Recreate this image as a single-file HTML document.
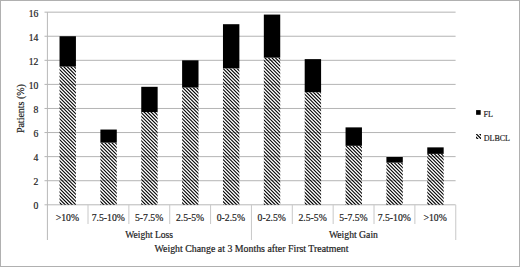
<!DOCTYPE html><html><head><meta charset="utf-8"><style>html,body{margin:0;padding:0;background:#fff;}svg{display:block;}text{font-family:"Liberation Serif",serif;fill:#222;stroke:#222;stroke-width:0.2px;}</style></head><body>
<svg width="520" height="267" viewBox="0 0 520 267">
<rect x="0" y="0" width="520" height="267" fill="#fff"/>
<line x1="44.5" y1="180.72" x2="455.60" y2="180.72" stroke="#b4b4b4" stroke-width="1"/>
<line x1="44.5" y1="156.64" x2="455.60" y2="156.64" stroke="#b4b4b4" stroke-width="1"/>
<line x1="44.5" y1="132.56" x2="455.60" y2="132.56" stroke="#b4b4b4" stroke-width="1"/>
<line x1="44.5" y1="108.48" x2="455.60" y2="108.48" stroke="#b4b4b4" stroke-width="1"/>
<line x1="44.5" y1="84.40" x2="455.60" y2="84.40" stroke="#b4b4b4" stroke-width="1"/>
<line x1="44.5" y1="60.32" x2="455.60" y2="60.32" stroke="#b4b4b4" stroke-width="1"/>
<line x1="44.5" y1="36.24" x2="455.60" y2="36.24" stroke="#b4b4b4" stroke-width="1"/>
<line x1="44.5" y1="12.16" x2="455.60" y2="12.16" stroke="#b4b4b4" stroke-width="1"/>
<line x1="44.5" y1="204.80" x2="455.60" y2="204.80" stroke="#b8b8b8" stroke-width="1"/>
<rect x="59.53" y="36.24" width="16.4" height="30.34" fill="#000"/>
<clipPath id="c0"><rect x="59.53" y="66.58" width="16.40" height="138.22"/></clipPath><g clip-path="url(#c0)"><path d="M-84.42,65.58L55.80,205.80M-80.92,65.58L59.30,205.80M-77.42,65.58L62.80,205.80M-73.92,65.58L66.30,205.80M-70.42,65.58L69.80,205.80M-66.92,65.58L73.30,205.80M-63.42,65.58L76.80,205.80M-59.92,65.58L80.30,205.80M-56.42,65.58L83.80,205.80M-52.92,65.58L87.30,205.80M-49.42,65.58L90.80,205.80M-45.92,65.58L94.30,205.80M-42.42,65.58L97.80,205.80M-38.92,65.58L101.30,205.80M-35.42,65.58L104.80,205.80M-31.92,65.58L108.30,205.80M-28.42,65.58L111.80,205.80M-24.92,65.58L115.30,205.80M-21.42,65.58L118.80,205.80M-17.92,65.58L122.30,205.80M-14.42,65.58L125.80,205.80M-10.92,65.58L129.30,205.80M-7.42,65.58L132.80,205.80M-3.92,65.58L136.30,205.80M-0.42,65.58L139.80,205.80M3.08,65.58L143.30,205.80M6.58,65.58L146.80,205.80M10.08,65.58L150.30,205.80M13.58,65.58L153.80,205.80M17.08,65.58L157.30,205.80M20.58,65.58L160.80,205.80M24.08,65.58L164.30,205.80M27.58,65.58L167.80,205.80M31.08,65.58L171.30,205.80M34.58,65.58L174.80,205.80M38.08,65.58L178.30,205.80M41.58,65.58L181.80,205.80M45.08,65.58L185.30,205.80M48.58,65.58L188.80,205.80M52.08,65.58L192.30,205.80M55.58,65.58L195.80,205.80M59.08,65.58L199.30,205.80M62.58,65.58L202.80,205.80M66.08,65.58L206.30,205.80M69.58,65.58L209.80,205.80M73.08,65.58L213.30,205.80M76.58,65.58L216.80,205.80" stroke="#000" stroke-width="1.2" fill="none"/></g>
<rect x="100.39" y="129.55" width="16.4" height="13.12" fill="#000"/>
<clipPath id="c1"><rect x="100.39" y="142.67" width="16.40" height="62.13"/></clipPath><g clip-path="url(#c1)"><path d="M33.67,141.67L97.80,205.80M37.17,141.67L101.30,205.80M40.67,141.67L104.80,205.80M44.17,141.67L108.30,205.80M47.67,141.67L111.80,205.80M51.17,141.67L115.30,205.80M54.67,141.67L118.80,205.80M58.17,141.67L122.30,205.80M61.67,141.67L125.80,205.80M65.17,141.67L129.30,205.80M68.67,141.67L132.80,205.80M72.17,141.67L136.30,205.80M75.67,141.67L139.80,205.80M79.17,141.67L143.30,205.80M82.67,141.67L146.80,205.80M86.17,141.67L150.30,205.80M89.67,141.67L153.80,205.80M93.17,141.67L157.30,205.80M96.67,141.67L160.80,205.80M100.17,141.67L164.30,205.80M103.67,141.67L167.80,205.80M107.17,141.67L171.30,205.80M110.67,141.67L174.80,205.80M114.17,141.67L178.30,205.80M117.67,141.67L181.80,205.80" stroke="#000" stroke-width="1.2" fill="none"/></g>
<rect x="141.25" y="86.81" width="16.4" height="25.28" fill="#000"/>
<clipPath id="c2"><rect x="141.25" y="112.09" width="16.40" height="92.71"/></clipPath><g clip-path="url(#c2)"><path d="M41.59,111.09L136.30,205.80M45.09,111.09L139.80,205.80M48.59,111.09L143.30,205.80M52.09,111.09L146.80,205.80M55.59,111.09L150.30,205.80M59.09,111.09L153.80,205.80M62.59,111.09L157.30,205.80M66.09,111.09L160.80,205.80M69.59,111.09L164.30,205.80M73.09,111.09L167.80,205.80M76.59,111.09L171.30,205.80M80.09,111.09L174.80,205.80M83.59,111.09L178.30,205.80M87.09,111.09L181.80,205.80M90.59,111.09L185.30,205.80M94.09,111.09L188.80,205.80M97.59,111.09L192.30,205.80M101.09,111.09L195.80,205.80M104.59,111.09L199.30,205.80M108.09,111.09L202.80,205.80M111.59,111.09L206.30,205.80M115.09,111.09L209.80,205.80M118.59,111.09L213.30,205.80M122.09,111.09L216.80,205.80M125.59,111.09L220.30,205.80M129.09,111.09L223.80,205.80M132.59,111.09L227.30,205.80M136.09,111.09L230.80,205.80M139.59,111.09L234.30,205.80M143.09,111.09L237.80,205.80M146.59,111.09L241.30,205.80M150.09,111.09L244.80,205.80M153.59,111.09L248.30,205.80M157.09,111.09L251.80,205.80" stroke="#000" stroke-width="1.2" fill="none"/></g>
<rect x="182.11" y="60.32" width="16.4" height="27.21" fill="#000"/>
<clipPath id="c3"><rect x="182.11" y="87.53" width="16.40" height="117.27"/></clipPath><g clip-path="url(#c3)"><path d="M59.03,86.53L178.30,205.80M62.53,86.53L181.80,205.80M66.03,86.53L185.30,205.80M69.53,86.53L188.80,205.80M73.03,86.53L192.30,205.80M76.53,86.53L195.80,205.80M80.03,86.53L199.30,205.80M83.53,86.53L202.80,205.80M87.03,86.53L206.30,205.80M90.53,86.53L209.80,205.80M94.03,86.53L213.30,205.80M97.53,86.53L216.80,205.80M101.03,86.53L220.30,205.80M104.53,86.53L223.80,205.80M108.03,86.53L227.30,205.80M111.53,86.53L230.80,205.80M115.03,86.53L234.30,205.80M118.53,86.53L237.80,205.80M122.03,86.53L241.30,205.80M125.53,86.53L244.80,205.80M129.03,86.53L248.30,205.80M132.53,86.53L251.80,205.80M136.03,86.53L255.30,205.80M139.53,86.53L258.80,205.80M143.03,86.53L262.30,205.80M146.53,86.53L265.80,205.80M150.03,86.53L269.30,205.80M153.53,86.53L272.80,205.80M157.03,86.53L276.30,205.80M160.53,86.53L279.80,205.80M164.03,86.53L283.30,205.80M167.53,86.53L286.80,205.80M171.03,86.53L290.30,205.80M174.53,86.53L293.80,205.80M178.03,86.53L297.30,205.80M181.53,86.53L300.80,205.80M185.03,86.53L304.30,205.80M188.53,86.53L307.80,205.80M192.03,86.53L311.30,205.80M195.53,86.53L314.80,205.80M199.03,86.53L318.30,205.80" stroke="#000" stroke-width="1.2" fill="none"/></g>
<rect x="222.97" y="24.20" width="16.4" height="44.19" fill="#000"/>
<clipPath id="c4"><rect x="222.97" y="68.39" width="16.40" height="136.41"/></clipPath><g clip-path="url(#c4)"><path d="M81.89,67.39L220.30,205.80M85.39,67.39L223.80,205.80M88.89,67.39L227.30,205.80M92.39,67.39L230.80,205.80M95.89,67.39L234.30,205.80M99.39,67.39L237.80,205.80M102.89,67.39L241.30,205.80M106.39,67.39L244.80,205.80M109.89,67.39L248.30,205.80M113.39,67.39L251.80,205.80M116.89,67.39L255.30,205.80M120.39,67.39L258.80,205.80M123.89,67.39L262.30,205.80M127.39,67.39L265.80,205.80M130.89,67.39L269.30,205.80M134.39,67.39L272.80,205.80M137.89,67.39L276.30,205.80M141.39,67.39L279.80,205.80M144.89,67.39L283.30,205.80M148.39,67.39L286.80,205.80M151.89,67.39L290.30,205.80M155.39,67.39L293.80,205.80M158.89,67.39L297.30,205.80M162.39,67.39L300.80,205.80M165.89,67.39L304.30,205.80M169.39,67.39L307.80,205.80M172.89,67.39L311.30,205.80M176.39,67.39L314.80,205.80M179.89,67.39L318.30,205.80M183.39,67.39L321.80,205.80M186.89,67.39L325.30,205.80M190.39,67.39L328.80,205.80M193.89,67.39L332.30,205.80M197.39,67.39L335.80,205.80M200.89,67.39L339.30,205.80M204.39,67.39L342.80,205.80M207.89,67.39L346.30,205.80M211.39,67.39L349.80,205.80M214.89,67.39L353.30,205.80M218.39,67.39L356.80,205.80M221.89,67.39L360.30,205.80M225.39,67.39L363.80,205.80M228.89,67.39L367.30,205.80M232.39,67.39L370.80,205.80M235.89,67.39L374.30,205.80M239.39,67.39L377.80,205.80" stroke="#000" stroke-width="1.2" fill="none"/></g>
<rect x="263.83" y="14.57" width="16.4" height="43.10" fill="#000"/>
<clipPath id="c5"><rect x="263.83" y="57.67" width="16.40" height="147.13"/></clipPath><g clip-path="url(#c5)"><path d="M109.67,56.67L258.80,205.80M113.17,56.67L262.30,205.80M116.67,56.67L265.80,205.80M120.17,56.67L269.30,205.80M123.67,56.67L272.80,205.80M127.17,56.67L276.30,205.80M130.67,56.67L279.80,205.80M134.17,56.67L283.30,205.80M137.67,56.67L286.80,205.80M141.17,56.67L290.30,205.80M144.67,56.67L293.80,205.80M148.17,56.67L297.30,205.80M151.67,56.67L300.80,205.80M155.17,56.67L304.30,205.80M158.67,56.67L307.80,205.80M162.17,56.67L311.30,205.80M165.67,56.67L314.80,205.80M169.17,56.67L318.30,205.80M172.67,56.67L321.80,205.80M176.17,56.67L325.30,205.80M179.67,56.67L328.80,205.80M183.17,56.67L332.30,205.80M186.67,56.67L335.80,205.80M190.17,56.67L339.30,205.80M193.67,56.67L342.80,205.80M197.17,56.67L346.30,205.80M200.67,56.67L349.80,205.80M204.17,56.67L353.30,205.80M207.67,56.67L356.80,205.80M211.17,56.67L360.30,205.80M214.67,56.67L363.80,205.80M218.17,56.67L367.30,205.80M221.67,56.67L370.80,205.80M225.17,56.67L374.30,205.80M228.67,56.67L377.80,205.80M232.17,56.67L381.30,205.80M235.67,56.67L384.80,205.80M239.17,56.67L388.30,205.80M242.67,56.67L391.80,205.80M246.17,56.67L395.30,205.80M249.67,56.67L398.80,205.80M253.17,56.67L402.30,205.80M256.67,56.67L405.80,205.80M260.17,56.67L409.30,205.80M263.67,56.67L412.80,205.80M267.17,56.67L416.30,205.80M270.67,56.67L419.80,205.80M274.17,56.67L423.30,205.80M277.67,56.67L426.80,205.80M281.17,56.67L430.30,205.80" stroke="#000" stroke-width="1.2" fill="none"/></g>
<rect x="304.69" y="59.12" width="16.4" height="33.11" fill="#000"/>
<clipPath id="c6"><rect x="304.69" y="92.23" width="16.40" height="112.57"/></clipPath><g clip-path="url(#c6)"><path d="M186.23,91.23L300.80,205.80M189.73,91.23L304.30,205.80M193.23,91.23L307.80,205.80M196.73,91.23L311.30,205.80M200.23,91.23L314.80,205.80M203.73,91.23L318.30,205.80M207.23,91.23L321.80,205.80M210.73,91.23L325.30,205.80M214.23,91.23L328.80,205.80M217.73,91.23L332.30,205.80M221.23,91.23L335.80,205.80M224.73,91.23L339.30,205.80M228.23,91.23L342.80,205.80M231.73,91.23L346.30,205.80M235.23,91.23L349.80,205.80M238.73,91.23L353.30,205.80M242.23,91.23L356.80,205.80M245.73,91.23L360.30,205.80M249.23,91.23L363.80,205.80M252.73,91.23L367.30,205.80M256.23,91.23L370.80,205.80M259.73,91.23L374.30,205.80M263.23,91.23L377.80,205.80M266.73,91.23L381.30,205.80M270.23,91.23L384.80,205.80M273.73,91.23L388.30,205.80M277.23,91.23L391.80,205.80M280.73,91.23L395.30,205.80M284.23,91.23L398.80,205.80M287.73,91.23L402.30,205.80M291.23,91.23L405.80,205.80M294.73,91.23L409.30,205.80M298.23,91.23L412.80,205.80M301.73,91.23L416.30,205.80M305.23,91.23L419.80,205.80M308.73,91.23L423.30,205.80M312.23,91.23L426.80,205.80M315.73,91.23L430.30,205.80M319.23,91.23L433.80,205.80M322.73,91.23L437.30,205.80" stroke="#000" stroke-width="1.2" fill="none"/></g>
<rect x="345.55" y="127.38" width="16.4" height="18.42" fill="#000"/>
<clipPath id="c7"><rect x="345.55" y="145.80" width="16.40" height="59.00"/></clipPath><g clip-path="url(#c7)"><path d="M281.80,144.80L342.80,205.80M285.30,144.80L346.30,205.80M288.80,144.80L349.80,205.80M292.30,144.80L353.30,205.80M295.80,144.80L356.80,205.80M299.30,144.80L360.30,205.80M302.80,144.80L363.80,205.80M306.30,144.80L367.30,205.80M309.80,144.80L370.80,205.80M313.30,144.80L374.30,205.80M316.80,144.80L377.80,205.80M320.30,144.80L381.30,205.80M323.80,144.80L384.80,205.80M327.30,144.80L388.30,205.80M330.80,144.80L391.80,205.80M334.30,144.80L395.30,205.80M337.80,144.80L398.80,205.80M341.30,144.80L402.30,205.80M344.80,144.80L405.80,205.80M348.30,144.80L409.30,205.80M351.80,144.80L412.80,205.80M355.30,144.80L416.30,205.80M358.80,144.80L419.80,205.80M362.30,144.80L423.30,205.80" stroke="#000" stroke-width="1.2" fill="none"/></g>
<rect x="386.41" y="157.00" width="16.4" height="5.66" fill="#000"/>
<clipPath id="c8"><rect x="386.41" y="162.66" width="16.40" height="42.14"/></clipPath><g clip-path="url(#c8)"><path d="M337.16,161.66L381.30,205.80M340.66,161.66L384.80,205.80M344.16,161.66L388.30,205.80M347.66,161.66L391.80,205.80M351.16,161.66L395.30,205.80M354.66,161.66L398.80,205.80M358.16,161.66L402.30,205.80M361.66,161.66L405.80,205.80M365.16,161.66L409.30,205.80M368.66,161.66L412.80,205.80M372.16,161.66L416.30,205.80M375.66,161.66L419.80,205.80M379.16,161.66L423.30,205.80M382.66,161.66L426.80,205.80M386.16,161.66L430.30,205.80M389.66,161.66L433.80,205.80M393.16,161.66L437.30,205.80M396.66,161.66L440.80,205.80M400.16,161.66L444.30,205.80M403.66,161.66L447.80,205.80" stroke="#000" stroke-width="1.2" fill="none"/></g>
<rect x="427.27" y="147.37" width="16.4" height="6.50" fill="#000"/>
<clipPath id="c9"><rect x="427.27" y="153.87" width="16.40" height="50.93"/></clipPath><g clip-path="url(#c9)"><path d="M370.37,152.87L423.30,205.80M373.87,152.87L426.80,205.80M377.37,152.87L430.30,205.80M380.87,152.87L433.80,205.80M384.37,152.87L437.30,205.80M387.87,152.87L440.80,205.80M391.37,152.87L444.30,205.80M394.87,152.87L447.80,205.80M398.37,152.87L451.30,205.80M401.87,152.87L454.80,205.80M405.37,152.87L458.30,205.80M408.87,152.87L461.80,205.80M412.37,152.87L465.30,205.80M415.87,152.87L468.80,205.80M419.37,152.87L472.30,205.80M422.87,152.87L475.80,205.80M426.37,152.87L479.30,205.80M429.87,152.87L482.80,205.80M433.37,152.87L486.30,205.80M436.87,152.87L489.80,205.80M440.37,152.87L493.30,205.80M443.87,152.87L496.80,205.80" stroke="#000" stroke-width="1.2" fill="none"/></g>
<line x1="47.4" y1="12.16" x2="47.4" y2="240" stroke="#b8b8b8" stroke-width="1"/>
<line x1="88.01" y1="204.80" x2="88.01" y2="224" stroke="#c8c8c8" stroke-width="1"/>
<line x1="128.87" y1="204.80" x2="128.87" y2="224" stroke="#c8c8c8" stroke-width="1"/>
<line x1="169.73" y1="204.80" x2="169.73" y2="224" stroke="#c8c8c8" stroke-width="1"/>
<line x1="210.59" y1="204.80" x2="210.59" y2="224" stroke="#c8c8c8" stroke-width="1"/>
<line x1="251.45" y1="204.80" x2="251.45" y2="240" stroke="#c8c8c8" stroke-width="1"/>
<line x1="292.31" y1="204.80" x2="292.31" y2="224" stroke="#c8c8c8" stroke-width="1"/>
<line x1="333.17" y1="204.80" x2="333.17" y2="224" stroke="#c8c8c8" stroke-width="1"/>
<line x1="374.03" y1="204.80" x2="374.03" y2="224" stroke="#c8c8c8" stroke-width="1"/>
<line x1="414.89" y1="204.80" x2="414.89" y2="224" stroke="#c8c8c8" stroke-width="1"/>
<line x1="455.75" y1="204.80" x2="455.75" y2="240" stroke="#c8c8c8" stroke-width="1"/>
<text x="38.4" y="209.1" font-size="9.7" text-anchor="end">0</text>
<text x="38.4" y="185.0" font-size="9.7" text-anchor="end">2</text>
<text x="38.4" y="160.9" font-size="9.7" text-anchor="end">4</text>
<text x="38.4" y="136.9" font-size="9.7" text-anchor="end">6</text>
<text x="38.4" y="112.8" font-size="9.7" text-anchor="end">8</text>
<text x="38.4" y="88.7" font-size="9.7" text-anchor="end">10</text>
<text x="38.4" y="64.6" font-size="9.7" text-anchor="end">12</text>
<text x="38.4" y="40.5" font-size="9.7" text-anchor="end">14</text>
<text x="38.4" y="16.5" font-size="9.7" text-anchor="end">16</text>
<text x="67.43" y="221" font-size="9.7" text-anchor="middle">&gt;10%</text>
<text x="108.29" y="221" font-size="9.7" text-anchor="middle">7.5-10%</text>
<text x="149.15" y="221" font-size="9.7" text-anchor="middle">5-7.5%</text>
<text x="190.01" y="221" font-size="9.7" text-anchor="middle">2.5-5%</text>
<text x="230.87" y="221" font-size="9.7" text-anchor="middle">0-2.5%</text>
<text x="271.73" y="221" font-size="9.7" text-anchor="middle">0-2.5%</text>
<text x="312.59" y="221" font-size="9.7" text-anchor="middle">2.5-5%</text>
<text x="353.45" y="221" font-size="9.7" text-anchor="middle">5-7.5%</text>
<text x="394.31" y="221" font-size="9.7" text-anchor="middle">7.5-10%</text>
<text x="435.17" y="221" font-size="9.7" text-anchor="middle">&gt;10%</text>
<text x="149.15" y="238.2" font-size="9.7" text-anchor="middle" textLength="47.7" lengthAdjust="spacingAndGlyphs">Weight Loss</text>
<text x="353.45" y="238.2" font-size="9.7" text-anchor="middle">Weight Gain</text>
<text x="251.5" y="251.5" font-size="9.7" text-anchor="middle" textLength="194" lengthAdjust="spacingAndGlyphs">Weight Change at 3 Months after First Treatment</text>
<text transform="translate(23.8,108.6) rotate(-90)" x="0" y="0" font-size="9.7" text-anchor="middle" textLength="49" lengthAdjust="spacingAndGlyphs">Patients (%)</text>
<rect x="476.1" y="110.1" width="4.6" height="4.7" fill="#000"/>
<text x="483.5" y="117" font-size="9" textLength="9.4" lengthAdjust="spacingAndGlyphs">FL</text>
<clipPath id="c99"><rect x="476.00" y="134.00" width="5.00" height="5.00"/></clipPath><g clip-path="url(#c99)"><path d="M464.80,133.00L471.80,140.00M468.30,133.00L475.30,140.00M471.80,133.00L478.80,140.00M475.30,133.00L482.30,140.00M478.80,133.00L485.80,140.00M482.30,133.00L489.30,140.00" stroke="#000" stroke-width="1.2" fill="none"/></g>
<text x="483.7" y="141" font-size="9" textLength="26.3" lengthAdjust="spacingAndGlyphs">DLBCL</text>
<rect x="0.5" y="0.5" width="519" height="266" fill="none" stroke="#b0b0b0" stroke-width="1"/>
</svg></body></html>
